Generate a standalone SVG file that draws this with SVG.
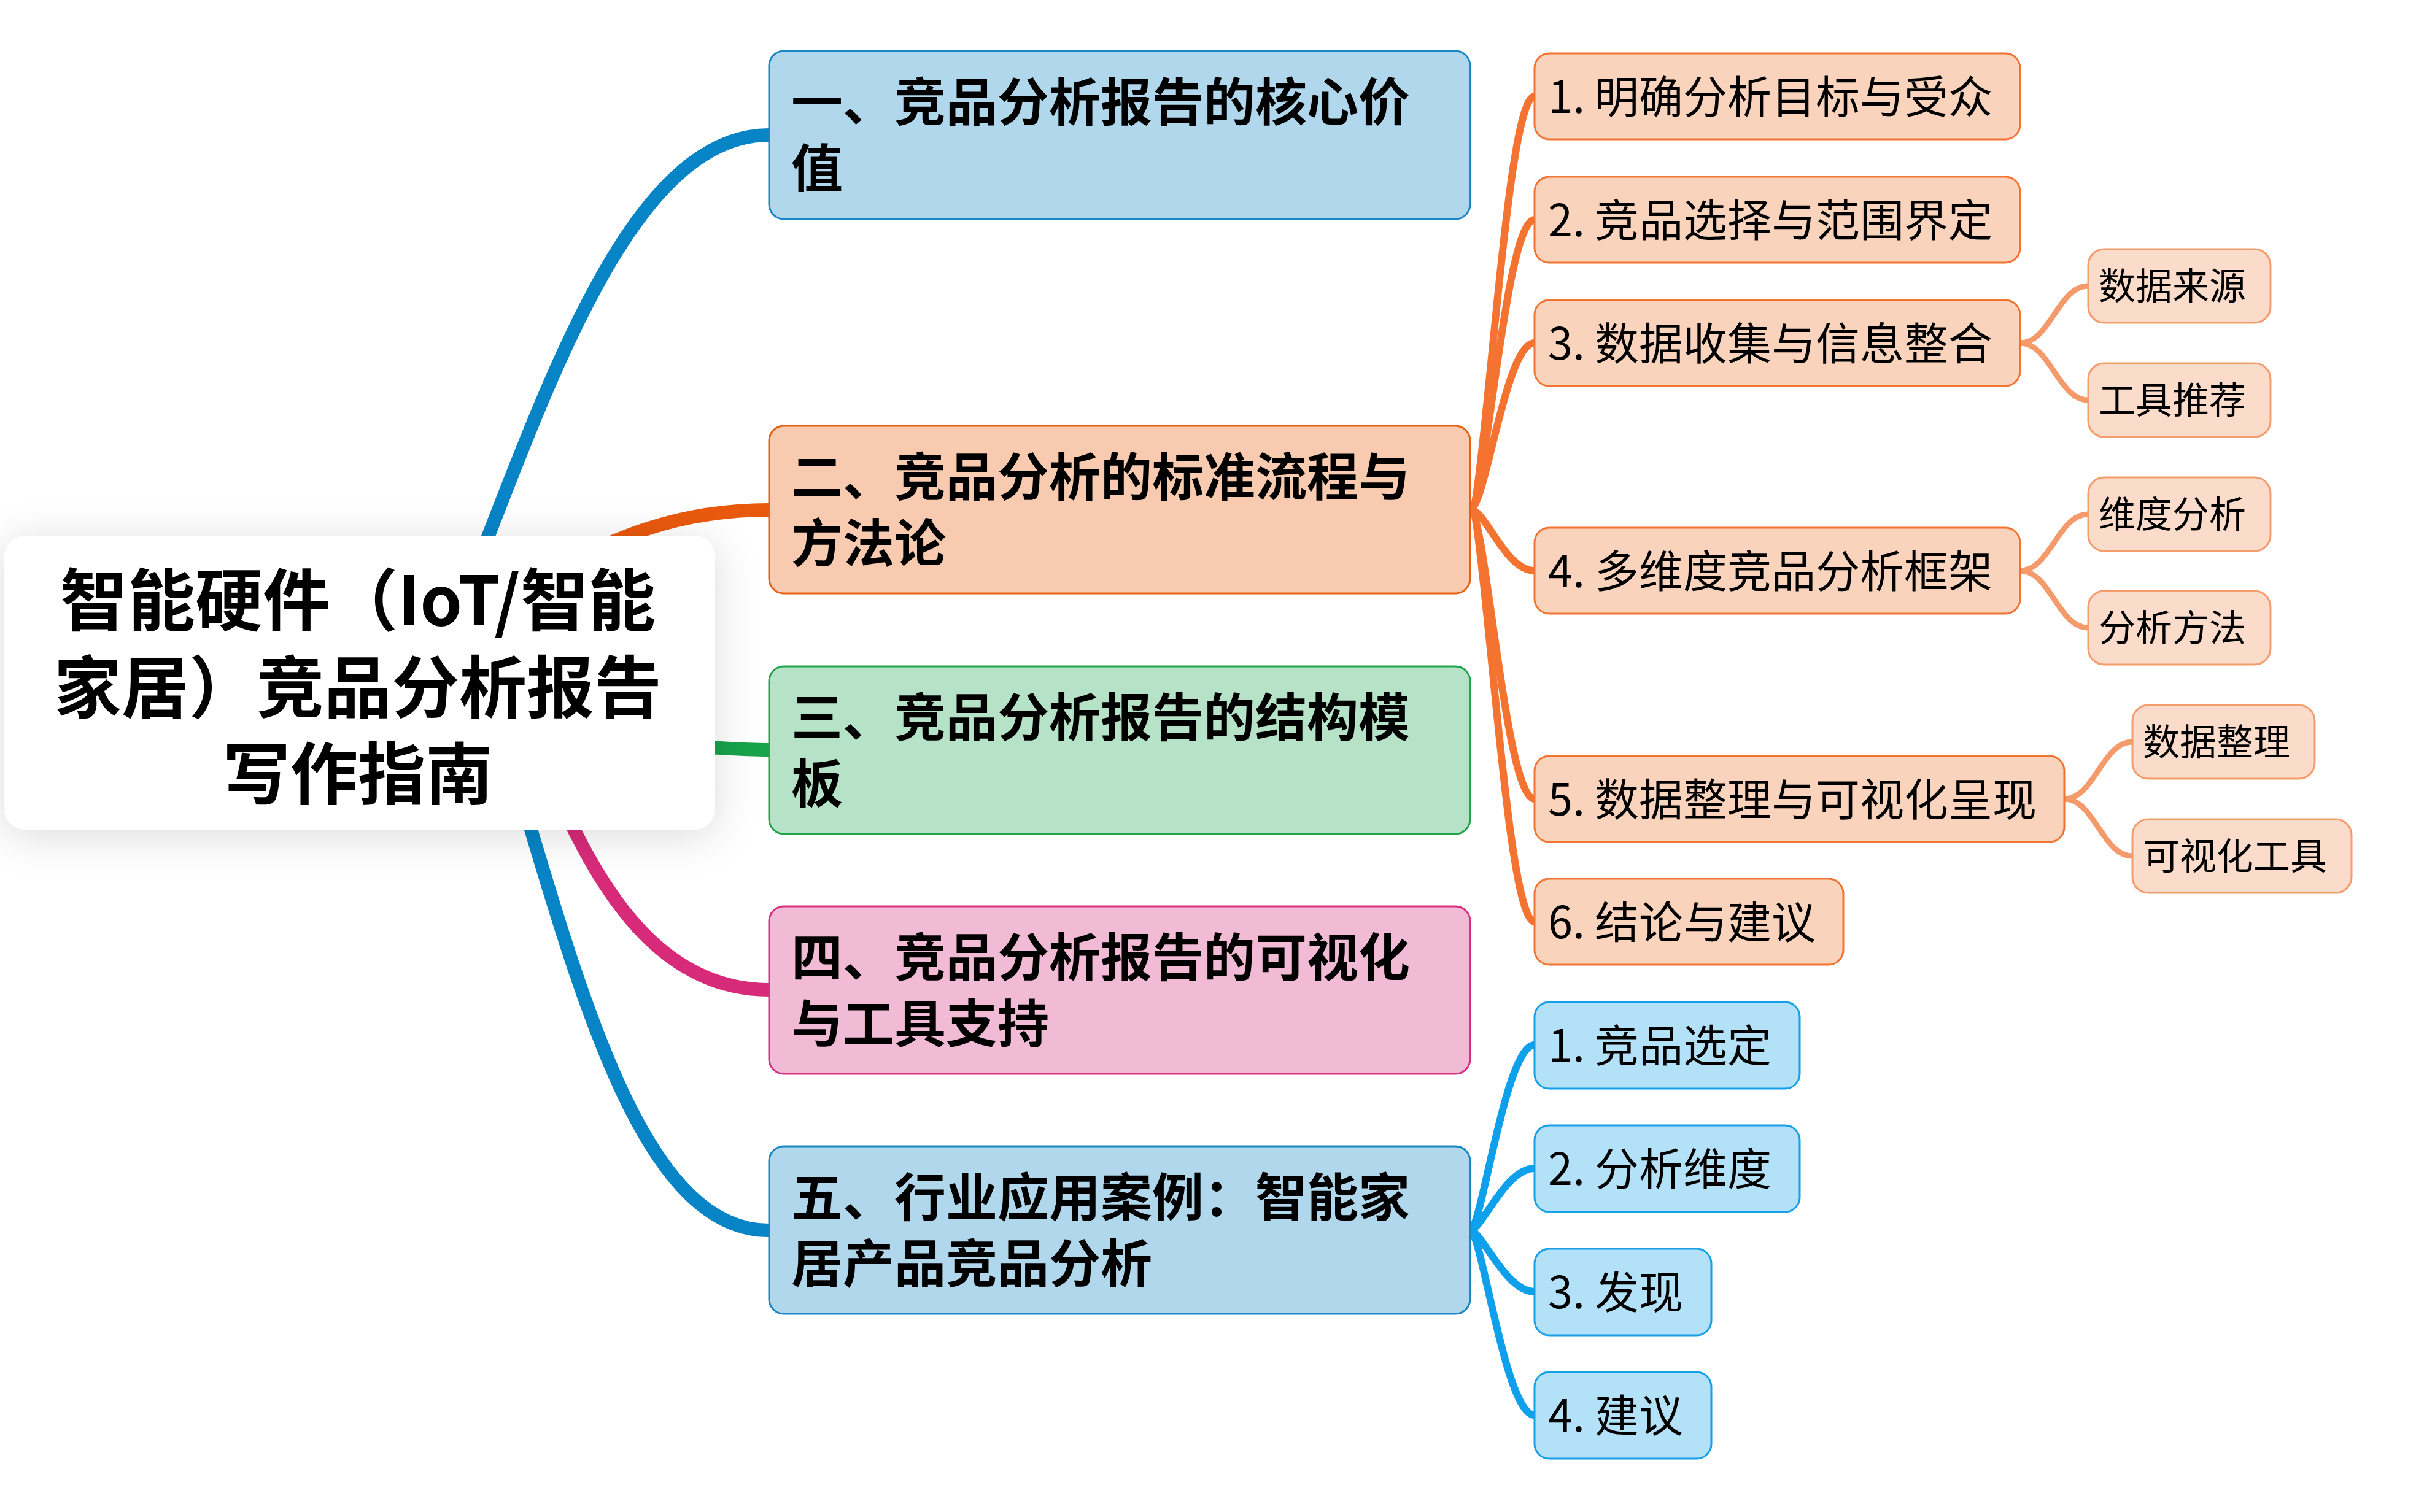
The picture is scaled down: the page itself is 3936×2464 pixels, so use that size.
<svg xmlns="http://www.w3.org/2000/svg" width="3936" height="2464" viewBox="0 0 3936 2464">
<defs>
<filter id="shadow" x="-20%" y="-30%" width="140%" height="160%">
<feDropShadow dx="0" dy="10" stdDeviation="34" flood-color="#000000" flood-opacity="0.14"/>
</filter>
</defs>
<style>
text { font-family: "Noto Sans CJK SC", "Noto Sans", sans-serif; fill: #000000; }
.root { font-size: 110px; font-weight: 700; text-anchor: middle; }
.main { font-size: 84px; font-weight: 700; }
.child { font-size: 72px; }
.sub { font-size: 60px; }
.c { fill: none; stroke-linecap: butt; }
.m { stroke-width: 22; }
.k { stroke-width: 12; }
.s { stroke-width: 9; stroke: #f59a6a; }
.blue { stroke: #0684c6; }
.orange { stroke: #e9590d; }
.green { stroke: #18a24a; }
.pink { stroke: #d72b79; }
.ok { stroke: #f47330; }
.bk { stroke: #0ea0ea; }
.n1 { fill: #b0d7eb; stroke: #1a86c6; stroke-width: 3; }
.n2 { fill: #f8cbb1; stroke: #ea6012; stroke-width: 3; }
.n3 { fill: #b6e3c7; stroke: #22a44e; stroke-width: 3; }
.n4 { fill: #f2bbd5; stroke: #d8307e; stroke-width: 3; }
.oc { fill: #fad3bd; stroke: #f27332; stroke-width: 3; }
.os { fill: #fbdccb; stroke: #f59c6c; stroke-width: 3; }
.bc { fill: #b2e1f8; stroke: #16a0e8; stroke-width: 3; }
</style>
<rect width="3936" height="2464" fill="#ffffff"/>
<g id="connectors">
<path class="c m blue" d="M 762 960 C 895 620 1030 220 1253 220"/>
<path class="c m orange" d="M 900 930 C 1000 878 1100 831 1253 831"/>
<path class="c m green" d="M 1000 1214 C 1150 1214 1180 1222 1253 1222"/>
<path class="c m pink" d="M 890 1260 C 950 1380 1040 1613 1253 1613"/>
<path class="c m blue" d="M 820 1200 C 940 1600 1040 2005 1253 2005"/>
<path class="c k ok" d="M 2395 830 C 2420 830 2452 157 2500 157"/>
<path class="c k ok" d="M 2395 830 C 2420 830 2452 358 2500 358"/>
<path class="c k ok" d="M 2395 830 C 2420 830 2452 559 2500 559"/>
<path class="c k ok" d="M 2395 830 C 2420 830 2452 930 2500 930"/>
<path class="c k ok" d="M 2395 830 C 2420 830 2452 1302 2500 1302"/>
<path class="c k ok" d="M 2395 830 C 2420 830 2452 1502 2500 1502"/>
<path class="c s" d="M 3291 559 C 3340 559 3353 466 3402 466"/>
<path class="c s" d="M 3291 559 C 3340 559 3353 652 3402 652"/>
<path class="c s" d="M 3291 930 C 3340 930 3353 838 3402 838"/>
<path class="c s" d="M 3291 930 C 3340 930 3353 1023 3402 1023"/>
<path class="c s" d="M 3363 1302 C 3412 1302 3425 1209 3474 1209"/>
<path class="c s" d="M 3363 1302 C 3412 1302 3425 1395 3474 1395"/>
<path class="c k bk" d="M 2395 2005 C 2414 2005 2452 1703 2500 1703"/>
<path class="c k bk" d="M 2395 2005 C 2414 2005 2452 1904 2500 1904"/>
<path class="c k bk" d="M 2395 2005 C 2414 2005 2452 2105 2500 2105"/>
<path class="c k bk" d="M 2395 2005 C 2414 2005 2452 2306 2500 2306"/>
</g>
<g id="root">
<rect x="7" y="873" width="1158" height="479" rx="34" fill="#ffffff" filter="url(#shadow)"/>
<text class="root" x="583" y="1019">智能硬件（IoT/智能</text>
<text class="root" x="583" y="1161">家居）竞品分析报告</text>
<text class="root" x="583" y="1302">写作指南</text>
</g>
<g id="node1">
<rect class="n1" x="1253" y="83" width="1142" height="274" rx="24"/>
<text class="main" x="1289" y="197">一、竞品分析报告的核心价</text>
<text class="main" x="1289" y="305">值</text>
</g>
<g id="node2">
<rect class="n2" x="1253" y="694" width="1142" height="273" rx="24"/>
<text class="main" x="1289" y="808">二、竞品分析的标准流程与</text>
<text class="main" x="1289" y="916">方法论</text>
</g>
<g id="node3">
<rect class="n3" x="1253" y="1086" width="1142" height="273" rx="24"/>
<text class="main" x="1289" y="1200">三、竞品分析报告的结构模</text>
<text class="main" x="1289" y="1308">板</text>
</g>
<g id="node4">
<rect class="n4" x="1253" y="1477" width="1142" height="273" rx="24"/>
<text class="main" x="1289" y="1591">四、竞品分析报告的可视化</text>
<text class="main" x="1289" y="1699">与工具支持</text>
</g>
<g id="node5">
<rect class="n1" x="1253" y="1868" width="1142" height="273" rx="24"/>
<text class="main" x="1289" y="1982">五、行业应用案例：智能家</text>
<text class="main" x="1289" y="2090">居产品竞品分析</text>
</g>
<g id="n2c1">
<rect class="oc" x="2500" y="87" width="791" height="140" rx="24"/>
<text class="child" x="2522" y="184">1. 明确分析目标与受众</text>
</g>
<g id="n2c2">
<rect class="oc" x="2500" y="288" width="791" height="140" rx="24"/>
<text class="child" x="2522" y="385">2. 竞品选择与范围界定</text>
</g>
<g id="n2c3">
<rect class="oc" x="2500" y="489" width="791" height="140" rx="24"/>
<text class="child" x="2522" y="586">3. 数据收集与信息整合</text>
</g>
<g id="n2c4">
<rect class="oc" x="2500" y="860" width="791" height="140" rx="24"/>
<text class="child" x="2522" y="957">4. 多维度竞品分析框架</text>
</g>
<g id="n2c5">
<rect class="oc" x="2500" y="1232" width="863" height="140" rx="24"/>
<text class="child" x="2522" y="1329">5. 数据整理与可视化呈现</text>
</g>
<g id="n2c6">
<rect class="oc" x="2500" y="1432" width="503" height="140" rx="24"/>
<text class="child" x="2522" y="1529">6. 结论与建议</text>
</g>
<g id="s3a">
<rect class="os" x="3402" y="406" width="297" height="120" rx="26"/>
<text class="sub" x="3419" y="488">数据来源</text>
</g>
<g id="s3b">
<rect class="os" x="3402" y="592" width="297" height="120" rx="26"/>
<text class="sub" x="3419" y="674">工具推荐</text>
</g>
<g id="s4a">
<rect class="os" x="3402" y="778" width="297" height="120" rx="26"/>
<text class="sub" x="3419" y="860">维度分析</text>
</g>
<g id="s4b">
<rect class="os" x="3402" y="963" width="297" height="120" rx="26"/>
<text class="sub" x="3419" y="1045">分析方法</text>
</g>
<g id="s5a">
<rect class="os" x="3474" y="1149" width="297" height="120" rx="26"/>
<text class="sub" x="3491" y="1231">数据整理</text>
</g>
<g id="s5b">
<rect class="os" x="3474" y="1335" width="357" height="120" rx="26"/>
<text class="sub" x="3491" y="1417">可视化工具</text>
</g>
<g id="n5c1">
<rect class="bc" x="2500" y="1633" width="432" height="141" rx="24"/>
<text class="child" x="2522" y="1730">1. 竞品选定</text>
</g>
<g id="n5c2">
<rect class="bc" x="2500" y="1834" width="432" height="141" rx="24"/>
<text class="child" x="2522" y="1931">2. 分析维度</text>
</g>
<g id="n5c3">
<rect class="bc" x="2500" y="2035" width="288" height="141" rx="24"/>
<text class="child" x="2522" y="2132">3. 发现</text>
</g>
<g id="n5c4">
<rect class="bc" x="2500" y="2236" width="288" height="141" rx="24"/>
<text class="child" x="2522" y="2333">4. 建议</text>
</g>
</svg>
